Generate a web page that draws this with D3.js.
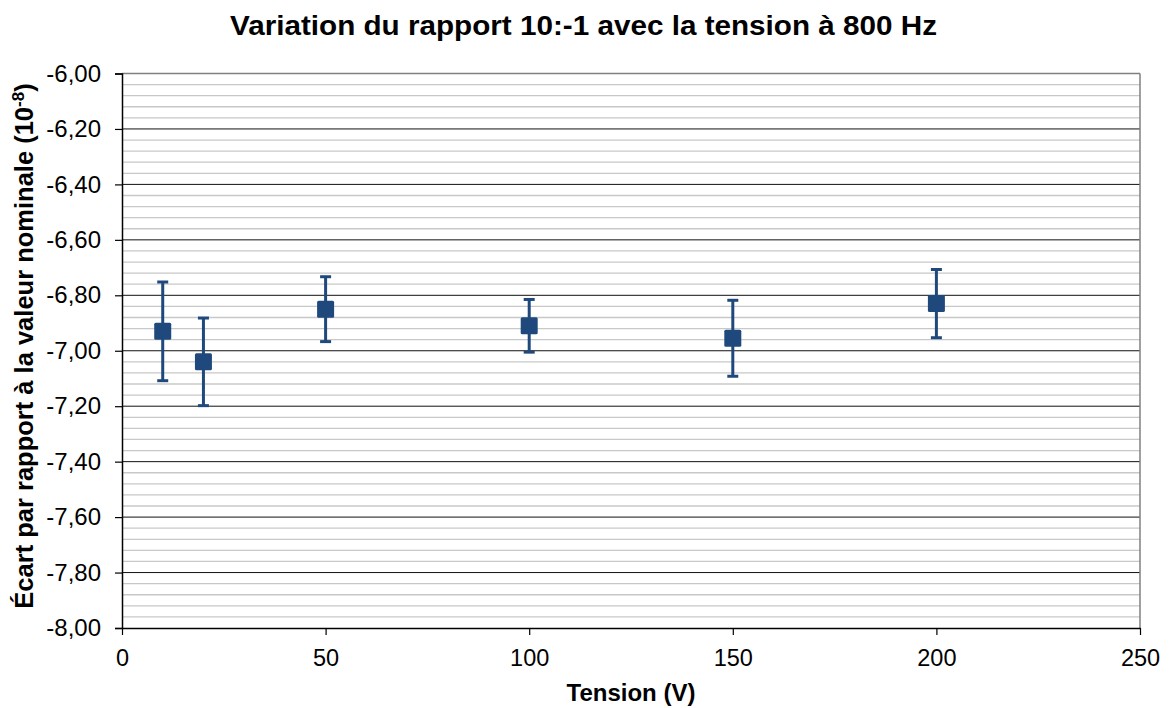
<!DOCTYPE html>
<html>
<head>
<meta charset="utf-8">
<script src="https://cdn.jsdelivr.net/npm/d3@7"></script>
<style>
  html, body { margin: 0; padding: 0; background: #fff; }
  svg { display: block; font-family: "Liberation Sans", Arial, sans-serif; }
</style>
</head>
<body>
<svg id="chart" width="1169" height="708"></svg>
<script>
// Measurements: voltage (V), deviation from nominal (1e-8), uncertainty (1e-8)
const tension = [10, 20, 50, 100, 150, 200];
const ecart = [-6.93, -7.04, -6.85, -6.91, -6.955, -6.83];
const incertitude = [0.178, 0.158, 0.117, 0.095, 0.137, 0.123];

const xTicks = [0, 50, 100, 150, 200, 250];
const yTicks = [-8.0, -7.8, -7.6, -7.4, -7.2, -7.0, -6.8, -6.6, -6.4, -6.2, -6.0];

const svg = d3.select("#chart");
const margin = { left: 122, top: 73.5, right: 1140, bottom: 628 };
const blue = "#1F497D";
const font = "Liberation Sans, Arial, sans-serif";

const x = d3.scaleLinear().domain([0, 250]).range([margin.left, margin.right]);
const y = d3.scaleLinear().domain([-8, -6]).range([margin.bottom, margin.top]);

const fmt = v => d3.format(".2f")(v).replace(".", ",").replace("−", "-");

// Minor gridlines every 0.04
const minor = d3.range(0, 51).map(i => -8 + i * 0.04).filter((v, i) => i % 5 !== 0);
svg.append("g").selectAll("line").data(minor).join("line")
  .attr("x1", margin.left).attr("x2", margin.right)
  .attr("y1", d => y(d)).attr("y2", d => y(d))
  .attr("stroke", "#c8c8c8").attr("stroke-width", 1.3);

// Major gridlines
svg.append("g").selectAll("line").data(yTicks.slice(1, -1)).join("line")
  .attr("x1", margin.left).attr("x2", margin.right)
  .attr("y1", d => y(d)).attr("y2", d => y(d))
  .attr("stroke", "#111").attr("stroke-width", 1);

// Plot frame (top and right)
svg.append("line").attr("x1", margin.left).attr("x2", margin.right)
  .attr("y1", margin.top).attr("y2", margin.top)
  .attr("stroke", "#808080").attr("stroke-width", 1.5);
svg.append("line").attr("x1", margin.right).attr("x2", margin.right)
  .attr("y1", margin.top).attr("y2", margin.bottom)
  .attr("stroke", "#808080").attr("stroke-width", 1.5);

// Y axis
const yAxis = d3.axisLeft(y).tickValues(yTicks).tickFormat(fmt).tickSize(7).tickPadding(14);
const gy = svg.append("g").attr("transform", `translate(${margin.left},0)`).call(yAxis);
gy.select(".domain").attr("stroke", "#000").attr("stroke-width", 1.5);
gy.selectAll(".tick line").attr("stroke", "#000").attr("stroke-width", 1.2);
gy.selectAll("text").attr("font-size", 24).attr("fill", "#000").attr("font-family", font);

// X axis
const xAxis = d3.axisBottom(x).tickValues(xTicks).tickSize(7).tickPadding(14).tickSizeOuter(0);
const gx = svg.append("g").attr("transform", `translate(0,${margin.bottom})`).call(xAxis);
gx.select(".domain").attr("stroke", "#000").attr("stroke-width", 1.5);
gx.selectAll(".tick line").attr("stroke", "#000").attr("stroke-width", 1.2);
gx.selectAll("text").attr("font-size", 23.5).attr("fill", "#000").attr("font-family", font);

// Error bars
const pts = tension.map((t, i) => ({ t, v: ecart[i], e: incertitude[i] }));
const eb = svg.append("g").attr("stroke", blue).attr("stroke-width", 3);
eb.selectAll("line.stem").data(pts).join("line").attr("class", "stem")
  .attr("x1", d => x(d.t)).attr("x2", d => x(d.t))
  .attr("y1", d => y(d.v + d.e)).attr("y2", d => y(d.v - d.e));
eb.selectAll("line.capHi").data(pts).join("line").attr("class", "capHi")
  .attr("x1", d => x(d.t) - 5.5).attr("x2", d => x(d.t) + 5.5)
  .attr("y1", d => y(d.v + d.e)).attr("y2", d => y(d.v + d.e));
eb.selectAll("line.capLo").data(pts).join("line").attr("class", "capLo")
  .attr("x1", d => x(d.t) - 5.5).attr("x2", d => x(d.t) + 5.5)
  .attr("y1", d => y(d.v - d.e)).attr("y2", d => y(d.v - d.e));

// Square markers
const s = 17;
svg.append("g").selectAll("rect").data(pts).join("rect")
  .attr("x", d => x(d.t) - s / 2).attr("y", d => y(d.v) - s / 2)
  .attr("width", s).attr("height", s).attr("rx", 1.5)
  .attr("fill", blue);

// Title
svg.append("text").attr("x", 583.5).attr("y", 34.5).attr("text-anchor", "middle")
  .attr("font-size", 27.5).attr("font-weight", "bold").attr("fill", "#000")
  .attr("textLength", 707).attr("lengthAdjust", "spacingAndGlyphs")
  .text("Variation du rapport 10:-1 avec la tension à 800 Hz");

// Axis titles
svg.append("text").attr("x", 631).attr("y", 701).attr("text-anchor", "middle")
  .attr("font-size", 24).attr("font-weight", "bold").attr("fill", "#000")
  .text("Tension (V)");

const yl = svg.append("text")
  .attr("transform", "translate(33,346) rotate(-90)")
  .attr("text-anchor", "middle")
  .attr("font-size", 25.5).attr("font-weight", "bold").attr("fill", "#000");
yl.append("tspan").text("Écart par rapport à la valeur nominale (10");
yl.append("tspan").attr("font-size", 17).attr("dy", -9).text("-8");
yl.append("tspan").attr("dy", 9).text(")");
</script>
</body>
</html>
